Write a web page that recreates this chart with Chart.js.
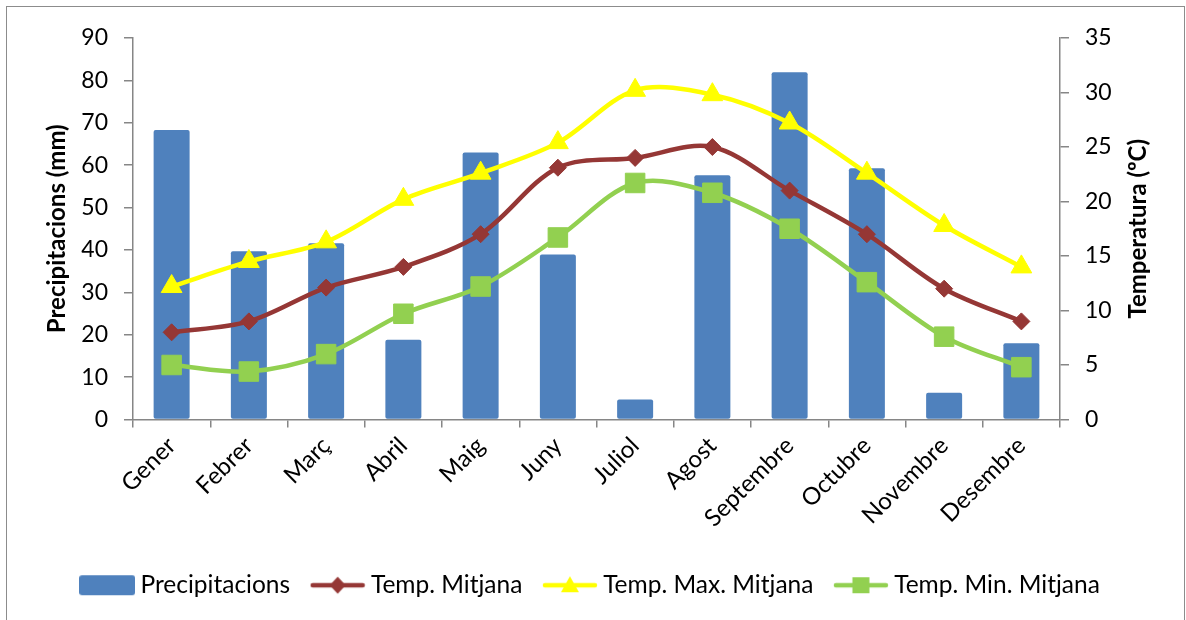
<!DOCTYPE html>
<html>
<head>
<meta charset="utf-8">
<script src="https://cdn.jsdelivr.net/npm/chart.js@4.4.0/dist/chart.umd.min.js"></script>
<style>
  html, body { margin: 0; padding: 0; background: #ffffff; }
  #wrap { position: relative; width: 1186px; height: 620px; overflow: hidden; }
  #frame { position: absolute; left: 6px; top: 6px; width: 1179px; height: 700px;
           border: 1.5px solid #8c8c8c; box-sizing: border-box; }
  #c { position: absolute; left: 0; top: 0; }
</style>
</head>
<body>
<div id="wrap">
  <div id="frame"></div>
  <canvas id="c" width="1186" height="620"></canvas>
</div>
<script>
// Climate data per month
const months = ['Gener', 'Febrer', 'Març', 'Abril', 'Maig', 'Juny', 'Juliol',
                'Agost', 'Septembre', 'Octubre', 'Novembre', 'Desembre'];
const precipitacions = [68.3, 39.7, 41.6, 18.8, 63.0, 38.9, 4.7, 57.6, 81.9, 59.3, 6.3, 18.0];
const tempMitjana    = [8.0, 9.0, 12.1, 14.0, 17.0, 23.1, 24.0, 25.0, 21.0, 17.0, 12.0, 9.0];
const tempMax        = [12.2, 14.5, 16.3, 20.2, 22.6, 25.4, 30.2, 29.8, 27.2, 22.6, 17.8, 14.0];
const tempMin        = [5.0, 4.4, 6.0, 9.7, 12.2, 16.7, 21.7, 20.8, 17.5, 12.6, 7.6, 4.8];

// Axis tick values
const precipTicks = [0, 10, 20, 30, 40, 50, 60, 70, 80, 90];
const tempTicks   = [0, 5, 10, 15, 20, 25, 30, 35];

const FONT = 'Lato, "Open Sans", sans-serif';
const AXIS_GREY = '#868686';
const C_BAR = '#4F81BD', C_MEAN = '#953735', C_MAX = '#FFFF00', C_MIN = '#92D050';
const RIGHT_TITLE = 'Temperatura (ºC)';

// Small canvases used as legend symbols (line with marker, or filled box)
function swatch(kind, color) {
  const cv = document.createElement('canvas');
  cv.width = 56; cv.height = 22;
  const g = cv.getContext('2d');
  g.fillStyle = color; g.strokeStyle = color;
  if (kind === 'bar') {
    const r = 3, w = 56, h = 20, y0 = 1;
    g.beginPath();
    g.moveTo(r, y0); g.lineTo(w - r, y0); g.quadraticCurveTo(w, y0, w, y0 + r);
    g.lineTo(w, y0 + h - r); g.quadraticCurveTo(w, y0 + h, w - r, y0 + h);
    g.lineTo(r, y0 + h); g.quadraticCurveTo(0, y0 + h, 0, y0 + h - r);
    g.lineTo(0, y0 + r); g.quadraticCurveTo(0, y0, r, y0);
    g.fill();
    return cv;
  }
  g.lineWidth = 4.5; g.lineCap = 'round';
  g.beginPath(); g.moveTo(3, 11); g.lineTo(53, 11); g.stroke();
  g.beginPath();
  if (kind === 'diamond') {
    g.moveTo(28, 2.5); g.lineTo(36, 11); g.lineTo(28, 19.5); g.lineTo(20, 11);
  } else if (kind === 'triangle') {
    g.moveTo(28, 2); g.lineTo(37, 18); g.lineTo(19, 18);
  } else if (kind === 'square') {
    g.rect(19.5, 3, 17, 16);
  }
  g.closePath(); g.fill();
  return cv;
}
const legendSymbols = [swatch('bar', C_BAR), swatch('diamond', C_MEAN),
                       swatch('triangle', C_MAX), swatch('square', C_MIN)];

// Right-hand axis title, written bottom-to-top like the left one
const rightTitlePlugin = {
  id: 'rightTitle',
  afterDraw(chart) {
    const s = chart.scales.y1;
    const g = chart.ctx;
    g.save();
    g.translate(s.right - 48, (s.top + s.bottom) / 2);
    g.rotate(-Math.PI / 2);
    g.font = 'bold 24px ' + FONT;
    g.fillStyle = '#000';
    g.textAlign = 'center';
    g.textBaseline = 'middle';
    g.fillText(RIGHT_TITLE, 0, 0);
    g.restore();
  }
};

const lineBase = { type: 'line', yAxisID: 'y1', borderWidth: 4.5, tension: 0.33,
                   pointBorderWidth: 1, pointHoverRadius: 0, fill: false };

new Chart(document.getElementById('c'), {
  plugins: [rightTitlePlugin],
  data: {
    labels: months,
    datasets: [
      { type: 'bar', label: 'Precipitacions', data: precipitacions, yAxisID: 'y',
        backgroundColor: C_BAR, borderRadius: 2, borderSkipped: false,
        barPercentage: 0.466, categoryPercentage: 1, order: 4 },
      Object.assign({}, lineBase, { label: 'Temp. Mitjana', data: tempMitjana,
        borderColor: C_MEAN, backgroundColor: C_MEAN, pointBorderColor: C_MEAN,
        pointStyle: 'rectRot', pointRadius: 8.5, order: 1 }),
      Object.assign({}, lineBase, { label: 'Temp. Max. Mitjana', data: tempMax,
        borderColor: C_MAX, backgroundColor: C_MAX, pointBorderColor: C_MAX,
        pointStyle: 'triangle', pointRadius: 12, order: 2 }),
      Object.assign({}, lineBase, { label: 'Temp. Min. Mitjana', data: tempMin,
        borderColor: C_MIN, backgroundColor: C_MIN, pointBorderColor: C_MIN,
        pointStyle: 'rect', pointRadius: 13.8, order: 3 })
    ]
  },
  options: {
    responsive: false,
    animation: false,
    devicePixelRatio: 1,
    layout: { padding: { top: 38, left: 0, right: 0, bottom: 12.5 } },
    plugins: {
      tooltip: { enabled: false },
      legend: {
        position: 'bottom',
        labels: {
          usePointStyle: true,
          pointStyleWidth: 42,
          padding: 26.5,
          color: '#000',
          font: { family: FONT, size: 24.5 },
          sort: (a, b) => a.datasetIndex - b.datasetIndex,
          generateLabels: (chart) => {
            const items = Chart.defaults.plugins.legend.labels.generateLabels(chart);
            items.forEach(it => { it.pointStyle = legendSymbols[it.datasetIndex]; });
            return items;
          }
        }
      }
    },
    scales: {
      x: {
        offset: true,
        grid: { offset: true, drawOnChartArea: false, drawTicks: true, tickLength: 8,
                color: AXIS_GREY, lineWidth: 1.5 },
        border: { color: AXIS_GREY, width: 1.5 },
        ticks: { minRotation: 45, maxRotation: 45, autoSkip: false, padding: 4,
                 color: '#000', font: { family: FONT, size: 24 } },
        afterFit: (s) => { s.height = 127; }
      },
      y: {
        position: 'left',
        min: precipTicks[0], max: precipTicks[precipTicks.length - 1],
        afterBuildTicks: (s) => { s.ticks = precipTicks.map(v => ({ value: v })); },
        grid: { drawOnChartArea: false, tickLength: 9, color: AXIS_GREY, lineWidth: 1.5 },
        border: { color: AXIS_GREY, width: 1.5 },
        ticks: { padding: 16, color: '#000', font: { family: FONT, size: 23 } },
        title: { display: true, text: 'Precipitacions (mm)', color: '#000',
                 font: { family: FONT, size: 24, weight: 'bold' },
                 padding: { top: 43, bottom: 0 } },
        afterFit: (s) => { s.width = 133; }
      },
      y1: {
        position: 'right',
        min: tempTicks[0], max: tempTicks[tempTicks.length - 1],
        afterBuildTicks: (s) => { s.ticks = tempTicks.map(v => ({ value: v })); },
        grid: { drawOnChartArea: false, tickLength: 9, color: AXIS_GREY, lineWidth: 1.5 },
        border: { color: AXIS_GREY, width: 1.5 },
        ticks: { padding: 16, color: '#000', font: { family: FONT, size: 23 } },
        afterFit: (s) => { s.width = 126; }
      }
    }
  }
});
</script>
</body>
</html>
